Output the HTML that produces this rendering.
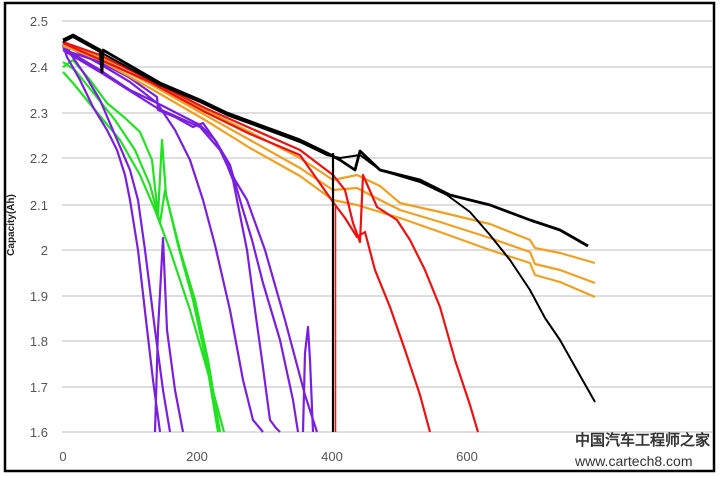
<!DOCTYPE html>
<html><head><meta charset="utf-8"><style>
html,body{margin:0;padding:0;background:#fff;width:720px;height:477px;overflow:hidden}
svg{display:block}
text{font-family:"Liberation Sans",sans-serif}
</style></head><body>
<svg width="720" height="477" viewBox="0 0 720 477">
<rect x="5" y="3" width="709" height="468" fill="#fff" stroke="#000" stroke-width="2.5"/>
<g stroke="#d4d4d4" stroke-width="1.5">
<line x1="62" x2="712" y1="21" y2="21"/><line x1="62" x2="712" y1="67" y2="67"/>
<line x1="62" x2="712" y1="113" y2="113"/><line x1="62" x2="712" y1="158" y2="158"/>
<line x1="62" x2="712" y1="205" y2="205"/><line x1="62" x2="712" y1="250" y2="250"/>
<line x1="62" x2="712" y1="296" y2="296"/><line x1="62" x2="712" y1="341" y2="341"/>
<line x1="62" x2="712" y1="387" y2="387"/><line x1="62" x2="712" y1="432" y2="432"/>
</g>
<g font-size="13" fill="#555" text-anchor="end">
<text x="48" y="26">2.5</text><text x="48" y="72">2.4</text><text x="48" y="118">2.3</text>
<text x="48" y="163">2.2</text><text x="48" y="210">2.1</text><text x="48" y="255">2</text>
<text x="48" y="301">1.9</text><text x="48" y="346">1.8</text><text x="48" y="392">1.7</text>
<text x="48" y="437">1.6</text>
</g>
<g font-size="13" fill="#555" text-anchor="middle">
<text x="63" y="461">0</text><text x="197" y="461">200</text><text x="332" y="461">400</text><text x="467" y="461">600</text>
</g>
<text transform="translate(14,225) rotate(-90)" font-size="10" font-weight="bold" fill="#222" text-anchor="middle">Capacity(Ah)</text>
<g fill="none" stroke-width="2.2" stroke-linejoin="round">
<!-- green -->
<g stroke="#22e022">
<polyline points="63,67 73,60 90,80 107,103 125,118 140,132 152,160 158,215 162,140 166,195 180,250 195,300 208,360 220,432"/>
<polyline points="63,62 75,70 95,95 115,120 135,150 150,185 160,223 165,190 178,245 193,300 207,365 218,432"/>
<polyline points="63,72 73,83 95,110 120,140 140,175 155,210 170,250 190,310 210,380 224,432"/>
</g>
<!-- purple -->
<g stroke="#7a1fe0">
<polyline points="63,45 67,57 80,80 93,107 107,130 117,150 125,175 130,200 138,250 146,320 153,380 160,432"/>
<polyline points="63,47 70,53 85,75 100,100 115,135 130,170 138,200 145,250 155,330 163,390 170,432"/>
<polyline points="155,432 158,330 163,238 167,330 175,390 183,432"/>
<polyline points="63,42 70,52 100,62 130,78 157,97 158,110 175,117 193,127 203,123 217,143 227,165 233,180 240,215 247,250 255,310 262,360 270,420 276,428 280,432"/>
<polyline points="63,44 100,64 130,82 157,103 175,130 190,160 203,200 215,245 230,310 243,380 253,420 263,432"/>
<polyline points="63,48 100,70 130,90 157,103 200,125 215,140 230,165 240,200 252,240 263,283 280,340 293,400 298,432"/>
<polyline points="63,50 100,72 157,108 200,127 220,150 235,180 247,200 265,250 285,320 305,395 317,432"/>
<polyline points="303,432 305,353 308,327 310,360 313,432"/>
</g>
<!-- orange -->
<g stroke="#f0a020">
<polyline points="63,42 100,56 150,80 205,110 250,132 300,158 333,180 357,175 380,186 400,203 440,212 490,224 530,240 535,248 560,253 595,263"/>
<polyline points="63,44 100,58 150,84 205,115 250,140 300,168 333,190 357,188 380,200 400,210 440,222 490,238 530,252 535,264 560,270 595,283"/>
<polyline points="63,46 100,60 150,88 205,120 250,148 300,176 333,200 357,205 380,212 400,218 440,232 490,250 530,263 535,275 560,282 595,297"/>
</g>
<!-- red -->
<g stroke="#ee1111">
<polyline points="63,42 100,55 150,80 205,108 250,128 300,150 333,175 345,190 353,223 360,242 363,175 377,207 397,220 410,240 425,270 440,307 455,360 470,405 478,432"/>
<polyline points="63,43 150,82 205,112 250,134 300,155 333,202 345,218 357,237 365,232 375,270 390,307 405,350 420,395 430,432"/>
</g>
<!-- black -->
<g stroke="#000">
<polyline points="63,40 73,35 100,50 102,72 103,50 160,83 200,100 227,113 273,130 300,140 327,153 340,160 355,170 360,151 380,170 420,180 450,195 490,205 530,220 560,230 588,246" stroke-width="2.8"/>
<polyline points="63,42 73,37 100,52 160,85 200,102 227,115 273,132 300,142 327,155 340,158 360,155 380,170 420,182 447,195 470,212 490,235 510,260 530,290 545,318 560,340 578,372 595,402" stroke-width="2"/>
<line x1="333" y1="153" x2="333" y2="432" stroke-width="2.2"/>
</g>
<line x1="335.5" y1="205" x2="335.5" y2="432" stroke="#ee1111" stroke-width="1.5"/>
</g>
<text x="575" y="445" font-size="15" font-weight="bold" fill="#333" font-family="'Liberation Sans','Noto Sans CJK SC',sans-serif">中国汽车工程师之家</text>
<text x="575" y="466" font-size="14" fill="#333" font-family="'Liberation Mono',monospace">www.cartech8.com</text>
</svg>
</body></html>
